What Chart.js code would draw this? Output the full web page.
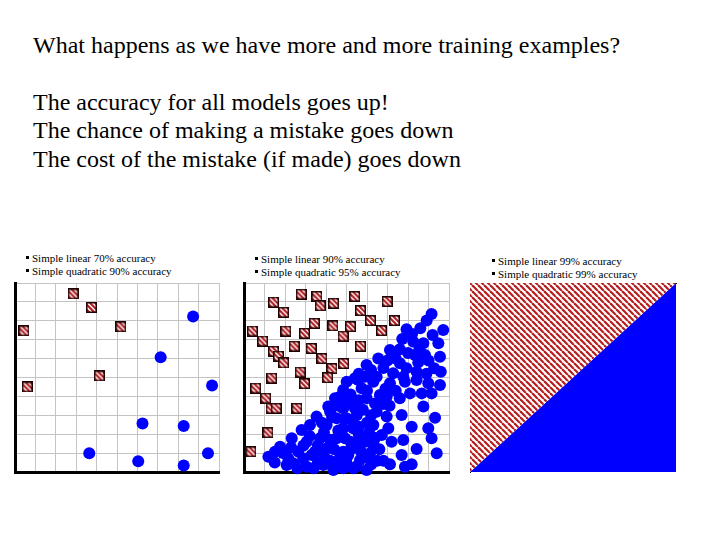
<!DOCTYPE html>
<html><head><meta charset="utf-8">
<script src="https://cdn.jsdelivr.net/npm/chart.js@4"></script>
<style>
body{margin:0;width:720px;height:540px;background:#fff;position:relative;overflow:hidden;font-family:"Liberation Serif","Times New Roman",serif;color:#000}
.t{position:absolute;left:33px;font-size:24px;line-height:24px;white-space:nowrap}
.lg{position:absolute;font-size:11px;line-height:13px;white-space:nowrap}
.b{display:inline-block;width:3px;height:3px;background:#000;margin-right:3px;vertical-align:middle;position:relative;top:-2px}
canvas{position:absolute}
</style></head><body>
<div class="t" style="top:33px">What happens as we have more and more training examples?</div>
<div class="t" style="top:90px">The accuracy for all models goes up!</div>
<div class="t" style="top:118px">The chance of making a mistake goes down</div>
<div class="t" style="top:147px">The cost of the mistake (if made) goes down</div>
<div class="lg" id="lg1" style="left:26px;top:252px"></div>
<div class="lg" id="lg2" style="left:255px;top:253px"></div>
<div class="lg" id="lg3" style="left:492px;top:255px"></div>
<canvas id="c1" width="224" height="209" style="left:5px;top:273px"></canvas>
<canvas id="c2" width="225" height="209" style="left:234px;top:273px"></canvas>
<canvas id="c3" width="226" height="209" style="left:460px;top:273px"></canvas>
<script>
// ---- data ----
const legend1 = ["Simple linear 70% accuracy", "Simple quadratic 90% accuracy"];
const legend2 = ["Simple linear 90% accuracy", "Simple quadratic 95% accuracy"];
const legend3 = ["Simple linear 99% accuracy", "Simple quadratic 99% accuracy"];

const chart1SquaresX = [2.85, 3.75, 5.19, 0.44, 4.13, 0.60];
const chart1SquaresY = [9.42, 8.71, 7.68, 7.47, 5.08, 4.50];
const chart1CirclesX = [8.73, 7.14, 9.66, 6.25, 8.27, 3.64, 6.04, 9.46, 8.27];
const chart1CirclesY = [8.23, 6.07, 4.58, 2.57, 2.44, 0.99, 0.57, 0.99, 0.35];

const chart2SquaresX = [2.79,3.56,3.72,4.37,5.40,6.98,1.44,1.93,5.68,6.17,6.71,7.34,0.41,0.91,1.44,1.68,1.93,2.04,2.95,3.43,4.34,4.83,5.19,2.45,3.28,3.80,4.29,4.86,4.08,5.68,2.74,2.95,1.35,0.57,1.06,1.32,1.57,2.58,1.17,0.34];
const chart2SquaresY = [9.41,9.29,8.79,8.93,9.29,9.02,8.99,8.45,8.54,8.01,7.48,8.01,7.46,6.93,6.39,6.13,5.77,7.46,7.34,7.87,7.73,7.19,7.69,6.66,6.54,6.00,5.47,5.74,4.99,6.66,5.29,4.67,4.97,4.44,3.91,3.37,3.37,3.37,2.08,1.07];

const chart2CirclesX = [9.15,8.91,9.72,9.20,7.93,7.72,8.26,8.75,9.48,8.55,8.34,8.83,9.56,9.28,7.12,6.55,5.98,7.61,7.93,8.42,7.28,5.90,6.47,5.41,7.77,
5.01,5.58,6.31,7.12,7.85,8.42,8.99,9.56,8.10,8.67,9.15,8.75,6.63,5.98,6.39,6.96,7.69,8.18,9.32,8.99,9.15,7.77,7.04,6.72,7.20,8.42,9.40,7.69,7.12,7.85,8.18,
5.01,5.33,4.93,5.50,5.09,5.66,6.15,6.31,5.33,5.98,5.74,5.01,5.41,6.31,6.47,
1.19,1.76,2.33,2.40,2.81,3.22,3.54,4.11,4.44,4.84,3.06,3.71,4.03,4.52,4.84,3.46,4.03,4.52,4.84,2.89,2.08,3.06,3.87,4.52,4.84,4.36,4.84,2.65,2.16,1.51,
5.60,5.90,6.00,5.50,4.40,4.20,3.60,3.30,5.20,5.70,6.50,6.96,7.10,
1.50,1.90,2.30,2.60,2.90,3.20,3.40,3.60,3.90,3.90,4.20,4.30,4.60,4.70,4.90,5.00,5.20,5.30,5.50,5.60,5.80,5.90,6.10,6.20,6.40,6.60,6.80,
3.80,4.20,4.60,4.70,5.20,5.30,5.60,5.80,6.00,6.20,
6.80,7.00,7.40,7.60,8.00,8.20,8.60,8.50,9.00,8.90,9.60,6.90,7.40,7.60,6.80,6.20,5.60];
const chart2CirclesY = [8.36,8.01,7.51,7.25,7.55,7.04,6.89,6.81,6.81,6.46,6.19,6.19,6.10,5.49,6.46,6.01,5.66,5.75,5.49,5.31,5.22,5.04,5.04,4.96,5.04,
4.78,4.87,4.78,4.69,4.78,4.87,4.69,4.60,4.16,4.16,4.16,3.46,4.07,3.90,3.63,2.93,3.02,2.40,2.87,2.31,1.78,1.69,2.31,1.96,1.60,1.22,0.99,0.90,0.41,0.28,0.41,
2.84,2.31,1.78,1.43,0.90,0.63,0.99,1.43,0.20,0.11,4.43,3.90,3.37,2.49,3.19,
0.81,1.34,1.78,0.46,2.22,2.49,2.93,3.46,3.90,4.34,1.60,1.78,2.49,2.84,3.37,1.07,1.25,1.78,2.31,0.72,0.37,0.28,0.37,0.54,1.07,0.11,0.20,1.07,0.72,1.07,
2.00,1.60,2.60,3.00,1.20,0.60,0.50,0.90,1.60,1.10,0.60,3.98,3.50,
0.50,1.00,1.30,0.20,1.40,1.90,0.20,1.40,2.10,0.90,1.70,2.90,2.20,0.90,2.80,0.50,1.20,2.70,0.30,2.40,1.80,0.80,2.10,0.40,1.80,1.20,0.60,
2.60,3.20,3.50,4.00,4.10,3.60,3.80,3.30,4.30,3.00,
5.50,5.90,6.00,6.50,6.30,7.30,7.60,5.80,5.90,5.20,5.30,4.40,4.30,3.90,3.60,5.40,5.20];

const chart3BoundaryX = [0, 10];
const chart3BoundaryY = [0, 10];

// ---- helpers ----
function toPts(xs, ys){ return xs.map((x,i)=>({x:x, y:ys[i]})); }

function fillLegend(id, lines){
  const el = document.getElementById(id);
  lines.forEach(function(s){
    const d = document.createElement('div');
    const b = document.createElement('span'); b.className='b';
    d.appendChild(b); d.appendChild(document.createTextNode(s));
    el.appendChild(d);
  });
}
fillLegend('lg1', legend1); fillLegend('lg2', legend2); fillLegend('lg3', legend3);

function makeHatchSquare(size){
  const c=document.createElement('canvas'); c.width=size; c.height=size;
  const g=c.getContext('2d');
  g.fillStyle='#fff'; g.fillRect(0,0,size,size);
  g.save(); g.beginPath(); g.rect(0,0,size,size); g.clip();
  g.strokeStyle='#b01c22'; g.lineWidth=2.1;
  for(let k=-2*size;k<=2*size;k+=5){ g.beginPath(); g.moveTo(k,0); g.lineTo(k+size,size); g.stroke(); }
  g.restore();
  g.strokeStyle='#200404'; g.lineWidth=1.5; g.strokeRect(0.75,0.75,size-1.5,size-1.5);
  return c;
}
function makeStripePattern(ctx){
  const p=6;
  const c=document.createElement('canvas'); c.width=p; c.height=p;
  const g=c.getContext('2d');
  g.fillStyle='#fff'; g.fillRect(0,0,p,p);
  g.strokeStyle='#b41e1e'; g.lineWidth=2.2;
  for(let k=-p;k<=p;k+=p){ g.beginPath(); g.moveTo(k,0); g.lineTo(k+p,p); g.stroke(); }
  return ctx.createPattern(c,'repeat');
}

const hatch = makeHatchSquare(11);
const BLUE = '#0000ff';

function scaleCfg(pos, grid, bw){
  return {
    type:'linear', min:0, max:10, position:pos,
    ticks:{display:false, stepSize:1},
    grid:{display:grid, color:'#c4c4c4', lineWidth:1, drawTicks:false},
    border:{display:true, color:'#000', width:bw},
    afterFit:function(s){ if(s.isHorizontal()) s.height=0; else s.width=0; }
  };
}
function baseOptions(xs, ys){
  return {
    responsive:false, animation:false, devicePixelRatio:1,
    layout:{padding:10},
    plugins:{legend:{display:false}, tooltip:{enabled:false}},
    events:[],
    scales:{x:xs, y:ys}
  };
}
function scatterChart(id, sqX, sqY, ciX, ciY){
  new Chart(document.getElementById(id), {
    type:'scatter',
    data:{datasets:[
      {label:'linear', data:toPts(sqX,sqY), pointStyle:hatch, pointRadius:5, clip:false},
      {label:'quadratic', data:toPts(ciX,ciY), pointStyle:'circle', pointRadius:6, backgroundColor:BLUE, borderWidth:0, clip:false}
    ]},
    options: baseOptions(scaleCfg('bottom',true,3), scaleCfg('left',true,3))
  });
}
scatterChart('c1', chart1SquaresX, chart1SquaresY, chart1CirclesX, chart1CirclesY);
scatterChart('c2', chart2SquaresX, chart2SquaresY, chart2CirclesX, chart2CirclesY);

const c3 = document.getElementById('c3');
const stripe = makeStripePattern(c3.getContext('2d'));
const xs3 = scaleCfg('top', false, 1); xs3.z = 1;
const ys3 = scaleCfg('left', false, 1); ys3.z = 1;
new Chart(c3, {
  type:'line',
  data:{datasets:[
    {label:'linear', data:toPts(chart3BoundaryX, chart3BoundaryY), fill:'end', backgroundColor:stripe, borderWidth:0, pointRadius:0},
    {label:'quadratic', data:toPts(chart3BoundaryX, chart3BoundaryY), fill:'start', backgroundColor:BLUE, borderWidth:0, pointRadius:0}
  ]},
  options: baseOptions(xs3, ys3)
});
</script>
</body></html>
